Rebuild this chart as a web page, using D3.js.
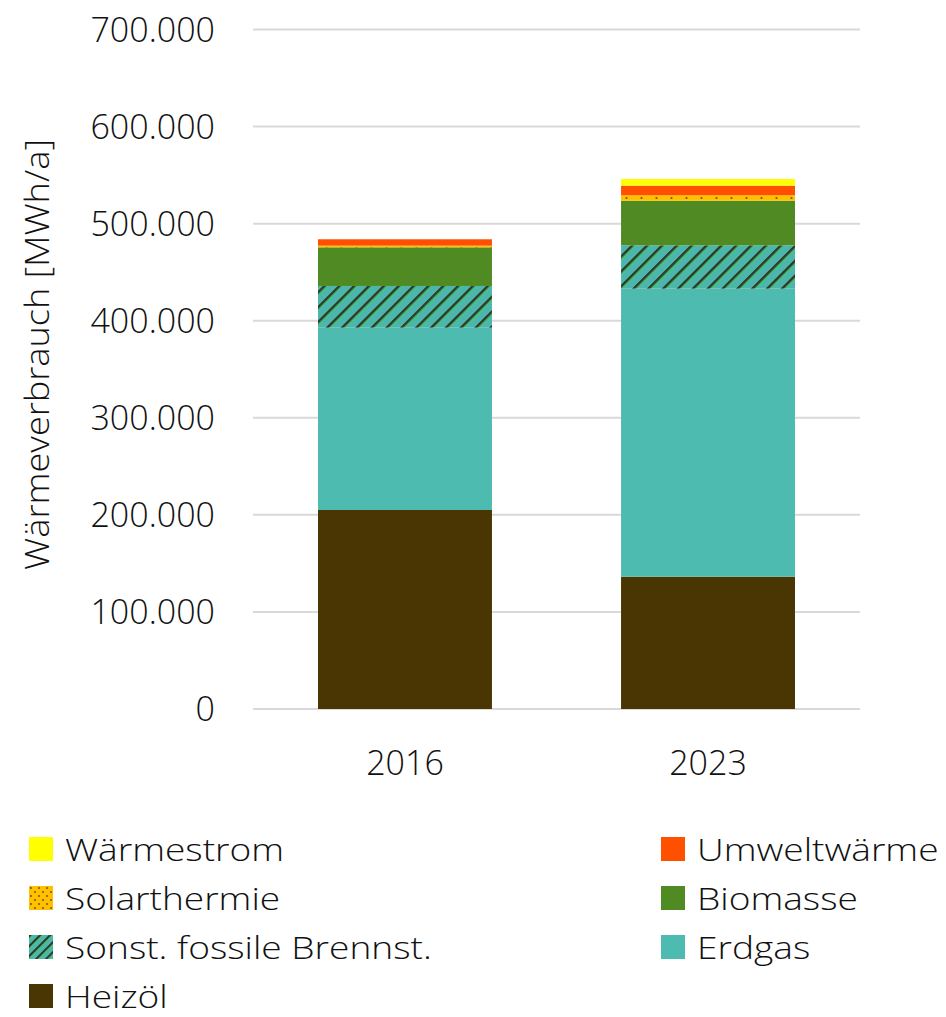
<!DOCTYPE html>
<html><head><meta charset="utf-8">
<script src="https://cdn.jsdelivr.net/npm/d3@7"></script>
<style>
html,body{margin:0;padding:0;background:#fff;}
svg text{font-family:"Open Sans","Noto Sans",sans-serif;fill:#111;}
</style></head>
<body><svg id="c" width="946" height="1017"></svg>
<script>
const years = ["2016", "2023"];
const seriesNames = ["Heizöl", "Erdgas", "Sonst. fossile Brennst.", "Biomasse", "Solarthermie", "Umweltwärme", "Wärmestrom"];
const heizoel = [205000, 136300];
const erdgas = [187800, 296700];
const sonstFossil = [43000, 44700];
const biomasse = [39800, 45900];
const solarthermie = [1700, 5600];
const umweltwaerme = [6600, 9900];
const waermestrom = [0, 6900];
const yTicks = [0, 100000, 200000, 300000, 400000, 500000, 600000, 700000];
const legendOrder = ["Wärmestrom", "Umweltwärme", "Solarthermie", "Biomasse", "Sonst. fossile Brennst.", "Erdgas", "Heizöl"];

const seriesValues = [heizoel, erdgas, sonstFossil, biomasse, solarthermie, umweltwaerme, waermestrom];
const fills = {
  "Heizöl": "#493603",
  "Erdgas": "#4EBBB1",
  "Sonst. fossile Brennst.": "url(#hatch)",
  "Biomasse": "#4F8A22",
  "Solarthermie": "url(#dots)",
  "Umweltwärme": "#FF5000",
  "Wärmestrom": "#FFFF00"
};

const rows = years.map((y, i) => {
  const o = {year: y};
  seriesNames.forEach((s, k) => o[s] = seriesValues[k][i]);
  return o;
});
const stacked = d3.stack().keys(seriesNames)(rows);

const svg = d3.select("#c");
const defs = svg.append("defs");
// hatched pattern
const hp = defs.append("pattern").attr("id", "hatch").attr("patternUnits", "userSpaceOnUse")
  .attr("width", 10.5).attr("height", 10.5).attr("patternTransform", "rotate(45)");
hp.append("rect").attr("width", 10.5).attr("height", 10.5).attr("fill", "#4DB5B0");
hp.append("rect").attr("x", 0).attr("width", 2.6).attr("height", 10.5).attr("fill", "#2E3A1C");
hp.append("rect").attr("x", 2.6).attr("width", 2.5).attr("height", 10.5).attr("fill", "#47BF90");
// dotted pattern
const dp = defs.append("pattern").attr("id", "dots").attr("patternUnits", "userSpaceOnUse")
  .attr("width", 15).attr("height", 10);
dp.append("rect").attr("width", 15).attr("height", 10).attr("fill", "#FFC000");
dp.append("circle").attr("cx", 4).attr("cy", 3).attr("r", 1.1).attr("fill", "#7A5500");
dp.append("circle").attr("cx", 11.5).attr("cy", 8).attr("r", 1.1).attr("fill", "#7A5500");
const dpl = defs.append("pattern").attr("id", "dotsL").attr("patternUnits", "userSpaceOnUse")
  .attr("width", 8).attr("height", 8);
dpl.append("rect").attr("width", 8).attr("height", 8).attr("fill", "#FFC000");
dpl.append("circle").attr("cx", 2).attr("cy", 2).attr("r", 1).attr("fill", "#7A5500");
dpl.append("circle").attr("cx", 6).attr("cy", 6).attr("r", 1).attr("fill", "#7A5500");
const hpl = defs.append("pattern").attr("id", "hatchL").attr("patternUnits", "userSpaceOnUse")
  .attr("width", 7).attr("height", 7).attr("patternTransform", "rotate(45)");
hpl.append("rect").attr("width", 7).attr("height", 7).attr("fill", "#4DB5B0");
hpl.append("rect").attr("width", 2.2).attr("height", 7).attr("fill", "#2E3A1C");
hpl.append("rect").attr("x", 2.2).attr("width", 1.8).attr("height", 7).attr("fill", "#47BF90");

const plotLeft = 253, plotRight = 860;
const y = d3.scaleLinear().domain([0, 700000]).range([709, 29.5]);
const x = d3.scaleBand().domain(years).range([plotLeft, plotRight]).paddingInner(0.426).paddingOuter(0.2145);

// gridlines
svg.append("g").selectAll("line").data(yTicks).join("line")
  .attr("x1", plotLeft).attr("x2", plotRight)
  .attr("y1", d => y(d)).attr("y2", d => y(d))
  .attr("stroke", "#D9D9D9").attr("stroke-width", 2);

// y tick labels
const fmt = d => d === 0 ? "0" : d3.format(",")(d).replace(/,/g, ".");
svg.append("g").selectAll("text").data(yTicks).join("text")
  .attr("x", 215).attr("y", d => y(d) + 12)
  .attr("text-anchor", "end").attr("font-size", 34).attr("font-weight", 300)
  .text(fmt);

// bars
svg.append("g").selectAll("g").data(stacked).join("g")
  .attr("fill", d => fills[d.key])
  .selectAll("rect").data(d => d).join("rect")
  .attr("x", d => x(d.data.year))
  .attr("width", x.bandwidth())
  .attr("y", d => y(d[1]))
  .attr("height", d => Math.max(0, y(d[0]) - y(d[1])));

// x labels
svg.append("g").selectAll("text").data(years).join("text")
  .attr("x", d => x(d) + x.bandwidth() / 2).attr("y", 775)
  .attr("text-anchor", "middle").attr("font-size", 34).attr("font-weight", 300)
  .text(d => d);

// y title
svg.append("text")
  .attr("transform", "translate(49,354.5) rotate(-90) scale(1.095,1)")
  .attr("text-anchor", "middle").attr("font-size", 33).attr("font-weight", 300)
  .text("Wärmeverbrauch [MWh/a]");

// legend
const legendFill = {...fills, "Sonst. fossile Brennst.": "url(#hatchL)", "Solarthermie": "url(#dotsL)"};
const lg = svg.append("g").selectAll("g").data(legendOrder).join("g")
  .attr("transform", (d, i) => `translate(${i % 2 === 0 ? 29 : 661},${837 + Math.floor(i / 2) * 49})`);
lg.append("rect").attr("width", 24).attr("height", 24).attr("fill", d => legendFill[d]);
lg.append("text").attr("transform", "translate(36,24) scale(1.16,1)")
  .attr("font-size", 32).attr("font-weight", 300).text(d => d);
</script></body></html>
